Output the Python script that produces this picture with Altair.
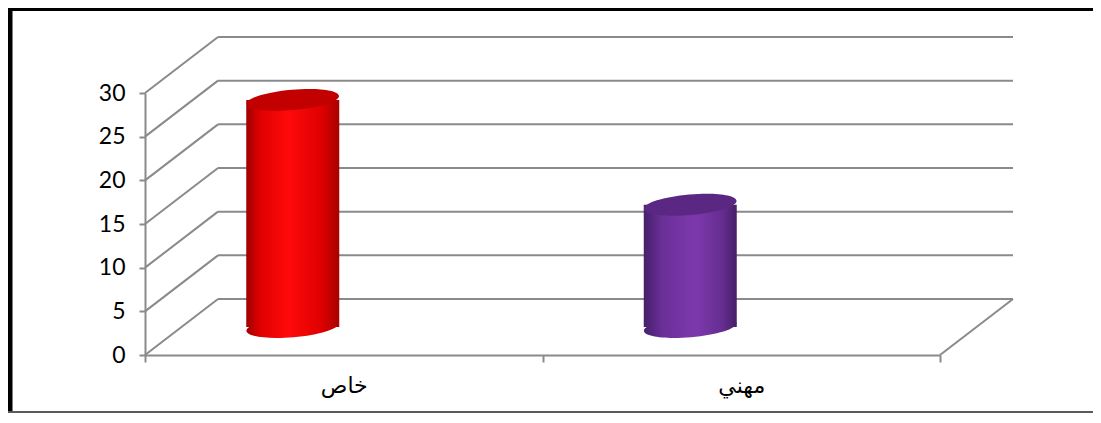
import altair as alt
import pandas as pd

# ---- data ----
categories = ["خاص", "مهني"]
values = [26, 14]
tick_values = [0, 5, 10, 15, 20, 25, 30]

# ---- styles ----
W, H = 795, 262
DX, DY = 73, -56          # 3D depth offset of the back wall
BAR_W = 93
BAR_DX, BAR_DY = -51, -28
GRID = "#8a8a8a"
PAD = {"left": 137, "top": 85, "right": 153, "bottom": 58}
body_fill = {
    "خاص": {"gradient": "linear", "x1": 0, "x2": 1, "y1": 0, "y2": 0,
             "stops": [{"offset": 0, "color": "#a00000"},
                       {"offset": 0.15, "color": "#e00000"},
                       {"offset": 0.45, "color": "#ff0a0a"},
                       {"offset": 0.8, "color": "#e00000"},
                       {"offset": 1, "color": "#a80000"}]},
    "مهني": {"gradient": "linear", "x1": 0, "x2": 1, "y1": 0, "y2": 0,
             "stops": [{"offset": 0, "color": "#46206a"},
                       {"offset": 0.2, "color": "#6a2f98"},
                       {"offset": 0.55, "color": "#7d39ac"},
                       {"offset": 0.85, "color": "#652d90"},
                       {"offset": 1, "color": "#441f66"}]},
}
top_fill = {"خاص": "#c20000", "مهني": "#5a2883"}
ELLIPSE = "M -1 0 A 1 0.22 0 1 1 1 0 A 1 0.22 0 1 1 -1 0 Z"

bars_df = pd.DataFrame({"cat": categories, "value": values, "base": [0] * len(values)})
ticks_df = pd.DataFrame({"v": tick_values})
zero_df = pd.DataFrame({"v": [0]})

yscale = alt.Scale(domain=[0, 30], nice=False, zero=True)
yaxis = alt.Axis(values=tick_values, labelFont="Lato", labelFontSize=23,
                 labelColor="black", labelPadding=14, tickSize=6, tickColor=GRID,
                 tickWidth=2, domainColor=GRID, domainWidth=2, grid=False, title=None)
xscale = alt.Scale(type="band", domain=categories, paddingInner=0, paddingOuter=0)
xaxis = alt.Axis(title=None, labelAngle=0, labelFont="DejaVu Sans", labelFontSize=22,
                 labelColor="black", labelPadding=13, tickBand="extent", tickSize=7,
                 tickColor=GRID, tickWidth=2, domainColor=GRID, domainWidth=2, grid=False)


def Y(field):
    return alt.Y(field, type="quantitative", scale=yscale, axis=yaxis)


def X():
    return alt.X("cat:N", scale=xscale, axis=xaxis, sort=categories)


# back wall grid lines
back_grid = alt.Chart(ticks_df).mark_rule(
    color=GRID, strokeWidth=2, xOffset=DX, x2Offset=DX, yOffset=DY
).encode(y=Y("v"), x=alt.value(0), x2=alt.value(W))

# left wall diagonals
side_grid = alt.Chart(ticks_df).mark_rule(
    color=GRID, strokeWidth=2, y2Offset=DY
).encode(y=Y("v"), y2="v:Q", x=alt.value(0), x2=alt.value(DX))

# floor right edge
floor_edge = alt.Chart(zero_df).mark_rule(
    color=GRID, strokeWidth=2, y2Offset=DY
).encode(y=Y("v"), y2="v:Q", x=alt.value(W), x2=alt.value(W + DX))

layers = [back_grid, side_grid, floor_edge]

for cat in categories:
    base = alt.Chart(bars_df).transform_filter(alt.datum.cat == cat)
    bottom = base.mark_point(
        shape=ELLIPSE, size=BAR_W * BAR_W, filled=True, fill=body_fill[cat],
        opacity=1, strokeWidth=0, angle=355, xOffset=BAR_DX, yOffset=BAR_DY
    ).encode(x=X(), y=Y("base"))
    body = base.mark_bar(
        size=BAR_W, fill=body_fill[cat], xOffset=BAR_DX, yOffset=BAR_DY, y2Offset=BAR_DY
    ).encode(x=X(), y=Y("value"), y2=alt.datum(0))
    top = base.mark_point(
        shape=ELLIPSE, size=BAR_W * BAR_W, filled=True, fill=top_fill[cat],
        opacity=1, strokeWidth=0, angle=355, xOffset=BAR_DX, yOffset=BAR_DY
    ).encode(x=X(), y=Y("value"))
    layers += [bottom, body, top]

# outer frame
total_w = PAD["left"] + W + PAD["right"]
total_h = PAD["top"] + H + PAD["bottom"]
frame_left = alt.Chart(zero_df).mark_rule(color="black", strokeWidth=5).encode(
    x=alt.value(-PAD["left"] + 2), y=alt.value(-PAD["top"]),
    y2=alt.value(total_h - PAD["top"]))
frame_top = alt.Chart(zero_df).mark_rule(color="black", strokeWidth=3).encode(
    y=alt.value(-PAD["top"] + 1.5), x=alt.value(-PAD["left"]),
    x2=alt.value(total_w - PAD["left"]))
frame_bottom = alt.Chart(zero_df).mark_rule(color="#5a5a5a", strokeWidth=2).encode(
    y=alt.value(total_h - PAD["top"] - 1), x=alt.value(-PAD["left"]),
    x2=alt.value(total_w - PAD["left"]))
layers += [frame_left, frame_top, frame_bottom]

chart = alt.layer(*layers).properties(
    width=W, height=H,
    autosize=alt.AutoSizeParams(type="none"),
    padding=PAD,
    background="white",
).configure_view(stroke=None)

chart.save("out.html", embed_options={"renderer": "svg", "actions": False})
